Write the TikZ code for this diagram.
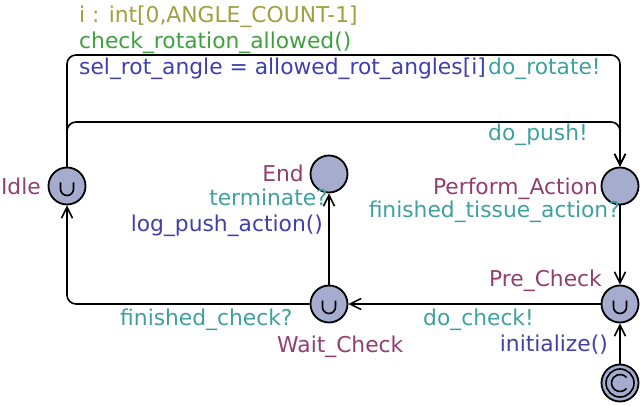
\documentclass[tikz,border=0pt]{standalone}
\usepackage{fontspec}
\setmainfont{DejaVu Sans}
\usetikzlibrary{arrows.meta}
\definecolor{locname}{RGB}{144,64,112}
\definecolor{locfill}{RGB}{165,172,206}
\definecolor{synccol}{RGB}{64,160,160}
\definecolor{updcol}{RGB}{64,64,170}
\definecolor{guardcol}{RGB}{64,160,64}
\definecolor{selcol}{RGB}{160,160,64}
\begin{document}
\begin{tikzpicture}[x=1pt,y=-1pt,
  every node/.style={font=\fontsize{21.8}{26}\selectfont, inner sep=0pt},
  loc/.style={circle, draw, line width=1.8pt, fill=locfill, minimum size=37pt},
  edge/.style={line width=1.6pt, -{Straight Barb[length=11pt,width=11pt,line width=1.6pt]}, rounded corners=9pt},
  urg/.style={line width=1.6pt},
  lname/.style={text=locname},
  lsync/.style={text=synccol},
  lupd/.style={text=updcol},
  lguard/.style={text=guardcol},
  lsel/.style={text=selcol}]
\useasboundingbox (0,0) rectangle (642,406);
\node[loc] (idle) at (67,186) {};
\node[loc] (end) at (329,174) {};
\node[loc] (perf) at (620,186) {};
\node[loc] (pre) at (620,304) {};
\node[loc] (wait) at (329,304) {};
\node[loc] (init) at (620,383) {};
\node[circle, draw, line width=1.6pt, minimum size=28pt] (initin) at (init) {};
\draw[urg] ([shift={(40:8.5)}]init.center) arc[start angle=40,end angle=320,radius=8.5];
\foreach \n in {idle,pre,wait}{
  \draw[urg] ([shift={(-6.5,-3.5)}]\n.center) -- ++(0,6.5) arc[start angle=180,end angle=0,radius=6.5] -- ++(0,-6.5);
}
% edges
\draw[edge] (idle.north) |- (620,55) -- (perf.north);
\draw[edge] (idle.north) |- (620,122) -- (perf.north);
\draw[edge] (perf) -- (pre);
\draw[edge] (pre) -- (wait);
\draw[edge] (wait) -- (end);
\draw[edge] (wait.west) -| (idle.south);
\draw[edge] (init) -- (pre);
% location names
\node[lname, anchor=base east] (nidle) at (41,194) {Idle};
\node[lname, anchor=base east] (nend) at (304,182) {End};
\node[lname, anchor=base east] (nperf) at (598,194) {Perform\_Action};
\node[lname, anchor=base east] (npre) at (602,286) {Pre\_Check};
\node[lname, anchor=base west] (nwait) at (277,352) {Wait\_Check};
% edge labels
\node[lsel, anchor=base west] (t1) at (79,23) {i : int[0,ANGLE\_COUNT-1]};
\node[lguard, anchor=base west] (t2) at (79,48.5) {check\_rotation\_allowed()};
\node[lupd, anchor=base west] (t3) at (79,74.5) {sel\_rot\_angle = allowed\_rot\_angles[i]};
\node[lsync, anchor=base west] (t4) at (488,74.5) {do\_rotate!};
\node[lsync, anchor=base west] (t5) at (488,141) {do\_push!};
\node[lsync, anchor=base east] (t6) at (620,217) {finished\_tissue\_action?};
\node[lsync, anchor=base east] (t7) at (328,205) {terminate?};
\node[lupd, anchor=base east] (t8) at (323,231) {log\_push\_action()};
\node[lsync, anchor=base west] (t9) at (423,325) {do\_check!};
\node[lsync, anchor=base west] (t10) at (120,325) {finished\_check?};
\node[lupd, anchor=base east] (t11) at (608,351) {initialize()};
\end{tikzpicture}
\end{document}
